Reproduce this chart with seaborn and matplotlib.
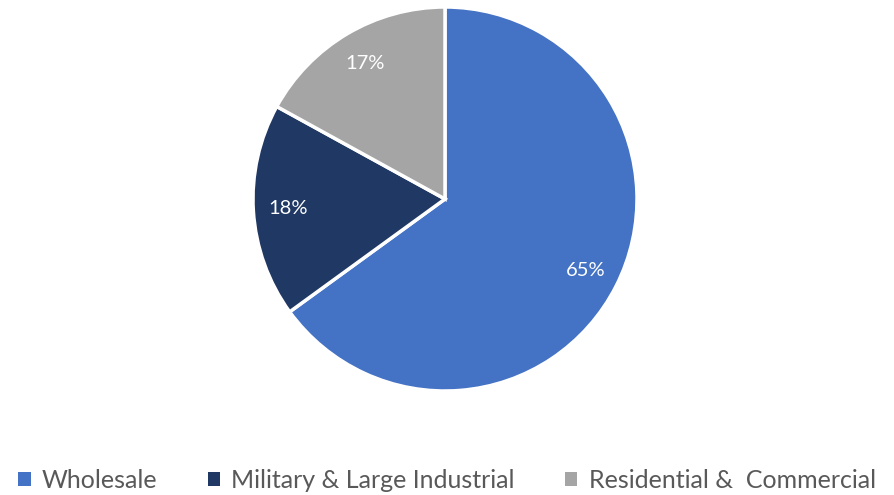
import matplotlib
matplotlib.use("Agg")
import matplotlib.pyplot as plt
import seaborn as sns
from matplotlib.patches import Patch

sns.set_theme(style="white")
plt.rcParams['font.family'] = ['Lato', 'DejaVu Sans']

categories = ["Wholesale", "Military & Large Industrial", "Residential &  Commercial"]
values = [65, 18, 17]
colors = ["#4472C4", "#203864", "#A5A5A5"]

fig = plt.figure(figsize=(8.94, 4.95), dpi=100)
ax = fig.add_axes([253/894, (495-391)/495, 384/894, 384/495])
wedges, texts, autotexts = ax.pie(
    values, colors=colors, startangle=90, counterclock=False,
    autopct=lambda p: f"{p:.0f}%", pctdistance=0.82, radius=1,
    wedgeprops=dict(edgecolor="white", linewidth=2.5),
    textprops=dict(color="white", fontsize=14.5))
ax.set_aspect("equal")
ax.set_xlim(-1, 1)
ax.set_ylim(-1, 1)

handles = [Patch(facecolor=c, edgecolor="none") for c in colors]
fig.legend(handles, categories, loc="center", bbox_to_anchor=(0.5, 1 - 480/495),
           ncol=3, frameon=False, fontsize=18, handlelength=0.5, handleheight=0.5,
           handletextpad=0.45, columnspacing=2.0, labelcolor="#595959")

fig.savefig("out.png", dpi=100)
